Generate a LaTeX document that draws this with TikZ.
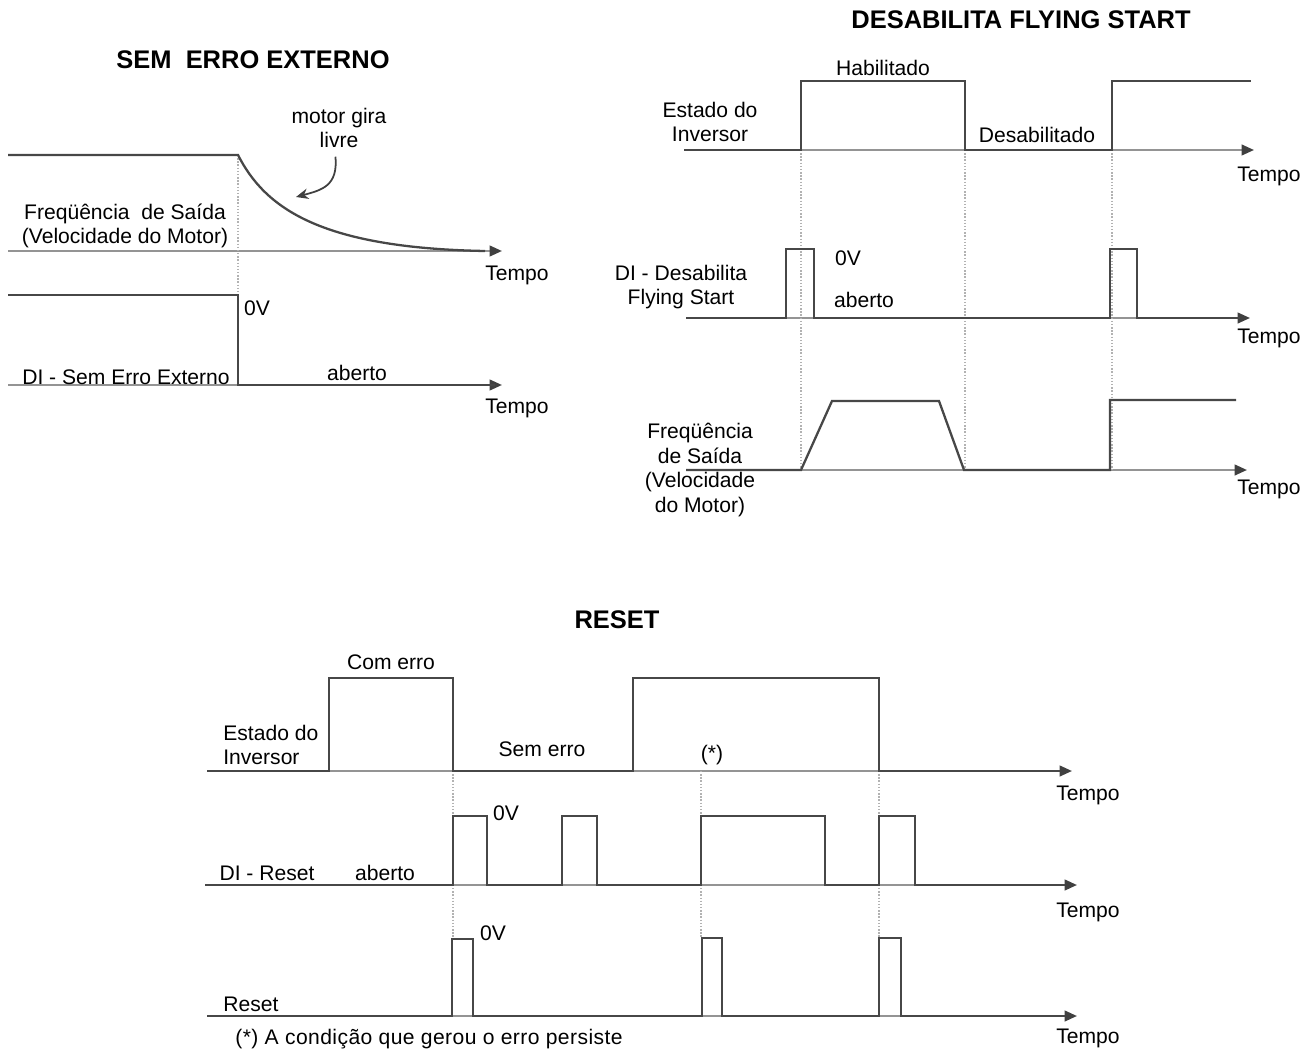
\documentclass[tikz,border=0pt]{standalone}
\usepackage{fontspec}
\setmainfont{Liberation Sans}
\usetikzlibrary{arrows.meta}

\begin{document}
\begin{tikzpicture}[
        x=0.02cm, y=-0.02cm,
        sig/.style={
            line width=1.3pt, draw=black!72, line join=miter
        },
        axis/.style={
            line width=1.3pt, draw=black!42,
            -{Triangle[length=7pt, width=6pt, color=black!75]}
        },
        guide/.style={
            densely dotted, draw=black!30, line width=0.8pt
        },
        lbl/.style={
            font=\fontsize{12}{13.5}\selectfont, inner sep=0pt, align=center
        },
        ttl/.style={
            font=\fontsize{14.5}{17}\selectfont\bfseries, inner sep=0pt
        }
    ]
        \useasboundingbox (0,0) rectangle (1315,1054);

        % ----------------------------------------------------
        % TOP LEFT: Sem Erro Externo
        % ----------------------------------------------------
        \node[ttl] (semtitle) at (253,60) {SEM\ \ ERRO EXTERNO};

        % Output frequency
        \draw[axis] (8,251) -- (502,251);
        \draw[guide] (238,155) -- (238,295);
        \draw[sig] (8,155) -- (238,155) .. controls (265,208) and (320,248) .. (485,251);
        \node[lbl] (girlivre) at (339,128) {motor gira\\livre};
        \coordinate (curvept) at (296,197);
        \draw[line width=1pt, draw=black!75, -{Stealth[length=7pt, width=6pt]}] ([xshift=-2pt, yshift=-5pt]girlivre.south) .. controls (338,186) and (322,190) .. (curvept);
        \node[lbl] (semfreq) at (125,226) {Freqüência\ \ de Saída\\(Velocidade do Motor)};
        \node[lbl] (semtempoa) at (517,275) {Tempo};

        % DI
        \draw[axis] (8,385) -- (502,385);
        \draw[sig] (8,295) -- (238,295) -- (238,385) -- (495,385);
        \node[lbl] (semzero) at (257,308) {0V};
        \node[lbl] (semdi) at (126,377) {DI - Sem Erro Externo};
        \node[lbl] (semaberto) at (357,373) {aberto};
        \node[lbl] (semtempob) at (517,408) {Tempo};

        % ----------------------------------------------------
        % TOP RIGHT: Desabilita Flying Start
        % ----------------------------------------------------
        \node[ttl] (fstitle) at (1021,20) {DESABILITA FLYING START};

        \draw[axis] (684,150) -- (1254,150);
        \draw[axis] (686,318) -- (1250,318);
        \draw[axis] (686,470) -- (1247,470);

        \draw[guide] (801,150) -- (801,470);
        \draw[guide] (965,150) -- (965,470);
        \draw[guide] (1112,150) -- (1112,470);

        % Inverter state
        \draw[sig] (684,150) -- (801,150) -- (801,81) -- (965,81) -- (965,150) -- (1112,150) -- (1112,81) -- (1251,81);
        \node[lbl] (fshab) at (883,68) {Habilitado};
        \node[lbl] (fsestado) at (710,122) {Estado do\\Inversor};
        \node[lbl] (fsdes) at (1037,135) {Desabilitado};
        \node[lbl] (fstempoa) at (1269,176) {Tempo};

        % DI
        \draw[sig] (686,318) -- (786,318) -- (786,249) -- (814,249) -- (814,318) -- (1110,318) -- (1110,249) -- (1137,249) -- (1137,318) -- (1240,318);
        \node[lbl] (fszero) at (848,258) {0V};
        \node[lbl] (fsaberto) at (864,300) {aberto};
        \node[lbl] (fsdi) at (681,287) {DI - Desabilita\\Flying Start};
        \node[lbl] (fstempob) at (1269,338) {Tempo};

        % Output frequency
        \draw[sig] (686,470) -- (801,470) -- (832,401) -- (939,401) -- (964,470) -- (1110,470) -- (1110,400) -- (1236,400);
        \node[lbl, font=\fontsize{12}{14.2}\selectfont] (fsfreq) at (700,470) {Freqüência\\de Saída\\(Velocidade\\do Motor)};
        \node[lbl] (fstempoc) at (1269,489) {Tempo};

        % ----------------------------------------------------
        % BOTTOM: Reset
        % ----------------------------------------------------
        \node[ttl] (rstitle) at (617,620) {RESET};

        \draw[axis] (207,771) -- (1072,771);
        \draw[axis] (205,885) -- (1077,885);
        \draw[axis] (207,1016) -- (1077,1016);

        \draw[guide] (453,771) -- (453,939);
        \draw[guide] (701,771) -- (701,938);
        \draw[guide] (879,771) -- (879,938);

        % Inverter state
        \draw[sig] (207,771) -- (329,771) -- (329,678) -- (453,678) -- (453,771) -- (633,771) -- (633,678) -- (879,678) -- (879,771) -- (1060,771);
        \node[lbl] (rscom) at (391,662) {Com erro};
        \node[lbl, anchor=west, align=left] (rsestado) at (223,745) {Estado do\\Inversor};
        \node[lbl] (rssem) at (542,749) {Sem erro};
        \node[lbl] (rsstar) at (712,755) {(*)};
        \node[lbl] (rstempoa) at (1088,795) {Tempo};

        % DI
        \draw[sig] (205,885) -- (453,885) -- (453,816) -- (487,816) -- (487,885) -- (562,885) -- (562,816) -- (597,816) -- (597,885) -- (701,885) -- (701,816) -- (825,816) -- (825,885) -- (879,885) -- (879,816) -- (915,816) -- (915,885) -- (1065,885);
        \node[lbl] (rszeroa) at (506,813) {0V};
        \node[lbl] (rsdi) at (267,873) {DI - Reset};
        \node[lbl] (rsaberto) at (385,873) {aberto};
        \node[lbl] (rstempob) at (1088,912) {Tempo};

        % Reset pulse
        \draw[sig] (207,1016) -- (452,1016) -- (452,939) -- (473,939) -- (473,1016) -- (702,1016) -- (702,938) -- (722,938) -- (722,1016) -- (879,1016) -- (879,938) -- (901,938) -- (901,1016) -- (1065,1016);
        \node[lbl] (rszerob) at (493,933) {0V};
        \node[lbl, anchor=west] (rsreset) at (223,1004) {Reset};
        \node[lbl, anchor=west, font=\fontsize{12}{13.5}\selectfont\addfontfeatures{LetterSpace=2}] (rsnote) at (235,1039) {(*) A condição que gerou o erro persiste};
        \node[lbl] (rstempoc) at (1088,1038) {Tempo};

    \end{tikzpicture}
\end{document}
